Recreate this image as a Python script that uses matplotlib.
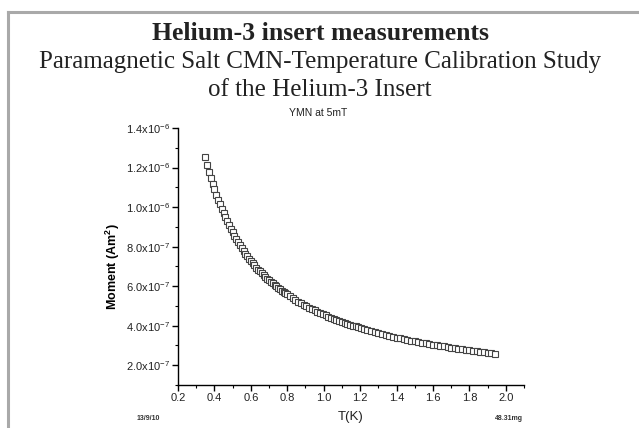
import numpy as np
import matplotlib
matplotlib.use("Agg")
import matplotlib.pyplot as plt
from matplotlib.lines import Line2D
from matplotlib.ticker import MultipleLocator, FixedLocator

# --- DATA ---
# temperature in K
T_K = [
    0.35, 0.36, 0.37, 0.38, 0.39, 0.40, 0.41, 0.42, 0.43, 0.44,
    0.45, 0.46, 0.47, 0.48, 0.49, 0.50, 0.51, 0.52, 0.53, 0.54,
    0.55, 0.56, 0.57, 0.58, 0.59, 0.60, 0.61, 0.62, 0.63, 0.64,
    0.65, 0.66, 0.67, 0.68, 0.69, 0.70, 0.71, 0.72, 0.73, 0.74,
    0.75, 0.76, 0.77, 0.78, 0.79, 0.80,
    0.815, 0.830, 0.845, 0.860, 0.875, 0.890, 0.905, 0.920, 0.935,
    0.950, 0.965, 0.980, 0.995, 1.010, 1.025, 1.040, 1.055, 1.070,
    1.085, 1.100, 1.115, 1.130, 1.145, 1.160, 1.175, 1.190, 1.205,
    1.22, 1.24, 1.26, 1.28, 1.30, 1.32, 1.34, 1.36, 1.38, 1.40,
    1.42, 1.44, 1.46, 1.48, 1.50, 1.52, 1.54, 1.56, 1.58, 1.60,
    1.62, 1.64, 1.66, 1.68, 1.70, 1.72, 1.74, 1.76, 1.78, 1.80,
    1.82, 1.84, 1.86, 1.88, 1.90, 1.92, 1.94,
]
# moment in units of 1e-7 Am^2
MOMENT_E7 = [
    12.55, 12.11, 11.78, 11.47, 11.18, 10.90, 10.63, 10.38, 10.14, 9.91,
    9.69, 9.48, 9.28, 9.08, 8.90, 8.72, 8.55, 8.38, 8.23, 8.07,
    7.93, 7.79, 7.65, 7.52, 7.39, 7.27, 7.16, 7.05, 6.94, 6.84,
    6.75, 6.65, 6.56, 6.47, 6.38, 6.30, 6.22, 6.14, 6.06, 5.99,
    5.91, 5.84, 5.77, 5.71, 5.64, 5.58,
    5.48, 5.39, 5.30, 5.22, 5.14, 5.06, 4.99, 4.91, 4.84,
    4.77, 4.71, 4.64, 4.58, 4.52, 4.46, 4.40, 4.35, 4.29,
    4.24, 4.19, 4.14, 4.09, 4.05, 4.00, 3.96, 3.91, 3.87,
    3.83, 3.77, 3.72, 3.67, 3.62, 3.58, 3.53, 3.49, 3.44, 3.40,
    3.36, 3.32, 3.28, 3.24, 3.21, 3.17, 3.14, 3.10, 3.07, 3.04,
    3.01, 2.98, 2.95, 2.92, 2.89, 2.86, 2.83, 2.81, 2.78, 2.76,
    2.73, 2.71, 2.68, 2.66, 2.64, 2.61, 2.59,
]
X_TICKS = [0.2, 0.4, 0.6, 0.8, 1.0, 1.2, 1.4, 1.6, 1.8, 2.0]
Y_TICKS = [2e-7, 4e-7, 6e-7, 8e-7, 1.0e-6, 1.2e-6, 1.4e-6]
Y_TICK_LABELS = ["2.0x10$^{\\mathregular{-7}}$", "4.0x10$^{\\mathregular{-7}}$",
                 "6.0x10$^{\\mathregular{-7}}$", "8.0x10$^{\\mathregular{-7}}$",
                 "1.0x10$^{\\mathregular{-6}}$", "1.2x10$^{\\mathregular{-6}}$",
                 "1.4x10$^{\\mathregular{-6}}$"]

W, H = 639, 428


def fx(px):
    return px / W


def fy(py):
    return 1 - py / H


fig = plt.figure(figsize=(W / 100, H / 100), dpi=100)
fig.patch.set_facecolor("white")

# page frame (top and left only)
fig.add_artist(Line2D([fx(8), 1.0], [fy(12), fy(12)], transform=fig.transFigure,
                      color="#a9a9a9", lw=2.2))
fig.add_artist(Line2D([fx(8), fx(8)], [0, fy(12)], transform=fig.transFigure,
                      color="#a9a9a9", lw=2.2))

serif = ["Liberation Serif", "DejaVu Serif"]
fig.text(fx(320), fy(34), "Helium-3 insert measurements", ha="center", va="center",
         fontsize=18.5, fontweight="bold", family=serif, color="#222222")
fig.text(fx(320), fy(62), "Paramagnetic Salt CMN-Temperature Calibration Study",
         ha="center", va="center", fontsize=18, family=serif, color="#222222")
fig.text(fx(320), fy(90), "of the Helium-3 Insert", ha="center", va="center",
         fontsize=18, family=serif, color="#222222")

sans = ["Liberation Sans", "DejaVu Sans"]
ax = fig.add_axes([fx(178), fy(385), fx(524) - fx(178), fy(128) - fy(385)])
ax.set_facecolor("none")

T = np.array(T_K)
M = np.array(MOMENT_E7) * 1e-7
ax.plot(T, M, linestyle="none", marker="s", markersize=4.5,
        markerfacecolor="white", markeredgecolor="#444444", markeredgewidth=0.8)

ax.set_xlim(0.2, 2.1)
ax.set_ylim(1e-7, 1.4e-6)
for s in ["top", "right"]:
    ax.spines[s].set_visible(False)
for s in ["left", "bottom"]:
    ax.spines[s].set_linewidth(1.0)

ax.xaxis.set_major_locator(FixedLocator(X_TICKS))
ax.xaxis.set_minor_locator(MultipleLocator(0.1))
ax.set_xticklabels(["%.1f" % v for v in X_TICKS])
ax.yaxis.set_major_locator(FixedLocator(Y_TICKS))
ax.yaxis.set_minor_locator(MultipleLocator(1e-7))
ax.set_yticklabels(Y_TICK_LABELS)
ax.tick_params(which="major", direction="out", length=4, width=1.0,
               labelsize=8, pad=2)
ax.tick_params(which="minor", direction="out", length=2.5, width=0.8)
for lab in ax.get_xticklabels() + ax.get_yticklabels():
    lab.set_family(sans)
    lab.set_color("#222222")

ax.set_ylabel("Moment (Am$^{\\mathregular{2}}$)", fontsize=9, fontweight="bold",
              family=sans)
ax.yaxis.set_label_coords(-0.162, 0.46)

fig.text(fx(318), fy(113), "YMN at 5mT", ha="center", va="center", fontsize=7.5,
         family=sans, color="#222222")
fig.text(fx(351), fy(417), "T(K)", ha="center", va="center", fontsize=9.5,
         family=sans, color="#222222")
fig.text(fx(148), fy(418), "13/9/10", ha="center", va="center", fontsize=5,
         fontweight="bold", family=sans, color="#333333")
fig.text(fx(509), fy(418), "48.31mg", ha="center", va="center", fontsize=5,
         fontweight="bold", family=sans, color="#333333")

fig.savefig("out.png", dpi=100)
